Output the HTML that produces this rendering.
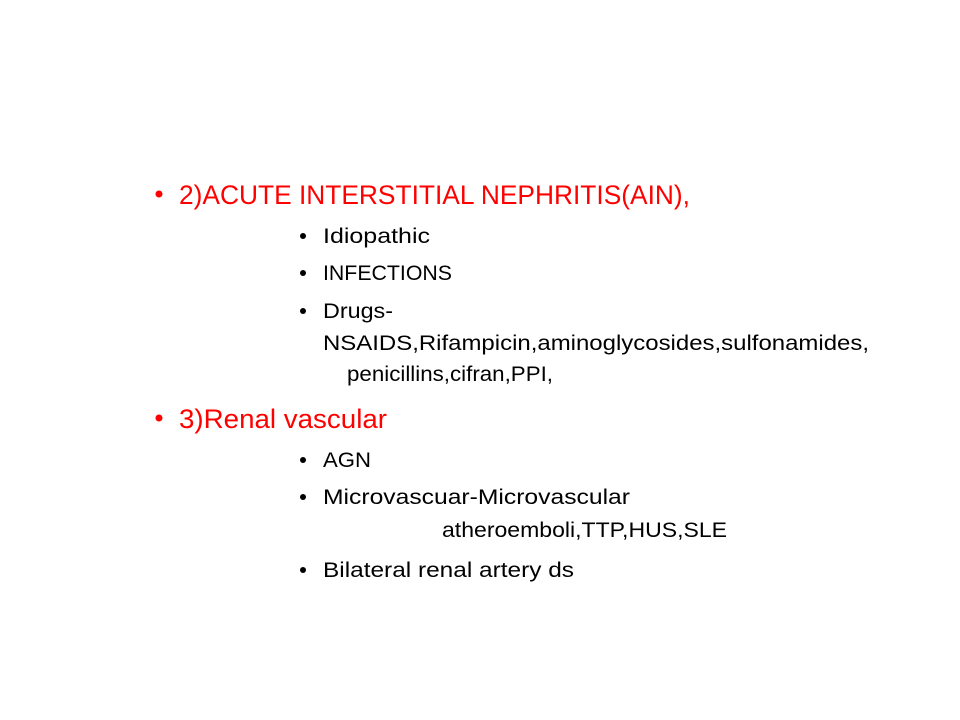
<!DOCTYPE html>
<html>
<head>
<meta charset="utf-8">
<style>
  html,body{margin:0;padding:0;background:#fff;}
  svg{display:block;}
  text{font-family:"Liberation Sans",sans-serif;}
  .red{fill:#ff0000;font-size:27px;}
  .blk{fill:#000;font-size:21px;}
</style>
</head>
<body>
<svg width="960" height="720" viewBox="0 0 960 720">
  <rect width="960" height="720" fill="#fff"/>
  <g>
    <circle cx="159" cy="194" r="3.5" fill="#ff0000"/>
    <text class="red" x="179" y="204" textLength="511" lengthAdjust="spacingAndGlyphs">2)ACUTE INTERSTITIAL NEPHRITIS(AIN),</text>
  </g>
  <g>
    <circle cx="303" cy="236" r="3" fill="#000"/>
    <text class="blk" x="323" y="243" textLength="107" lengthAdjust="spacingAndGlyphs">Idiopathic</text>
    <circle cx="303" cy="273" r="3" fill="#000"/>
    <text class="blk" x="323" y="280" textLength="129" lengthAdjust="spacingAndGlyphs">INFECTIONS</text>
    <circle cx="303" cy="311" r="3" fill="#000"/>
    <text class="blk" x="323" y="318" textLength="70" lengthAdjust="spacingAndGlyphs">Drugs-</text>
    <text class="blk" x="323" y="350" textLength="546" lengthAdjust="spacingAndGlyphs">NSAIDS,Rifampicin,aminoglycosides,sulfonamides,</text>
    <text class="blk" x="347" y="381" textLength="206" lengthAdjust="spacingAndGlyphs">penicillins,cifran,PPI,</text>
  </g>
  <g>
    <circle cx="159" cy="418" r="3.5" fill="#ff0000"/>
    <text class="red" x="179" y="428" textLength="208" lengthAdjust="spacingAndGlyphs">3)Renal vascular</text>
  </g>
  <g>
    <circle cx="303" cy="460" r="3" fill="#000"/>
    <text class="blk" x="323" y="467" textLength="48" lengthAdjust="spacingAndGlyphs">AGN</text>
    <circle cx="303" cy="497" r="3" fill="#000"/>
    <text class="blk" x="323" y="504" textLength="307" lengthAdjust="spacingAndGlyphs">Microvascuar-Microvascular</text>
    <text class="blk" x="442" y="537" textLength="285" lengthAdjust="spacingAndGlyphs">atheroemboli,TTP,HUS,SLE</text>
    <circle cx="303" cy="570" r="3" fill="#000"/>
    <text class="blk" x="323" y="577" textLength="251" lengthAdjust="spacingAndGlyphs">Bilateral renal artery ds</text>
  </g>
</svg>
</body>
</html>
